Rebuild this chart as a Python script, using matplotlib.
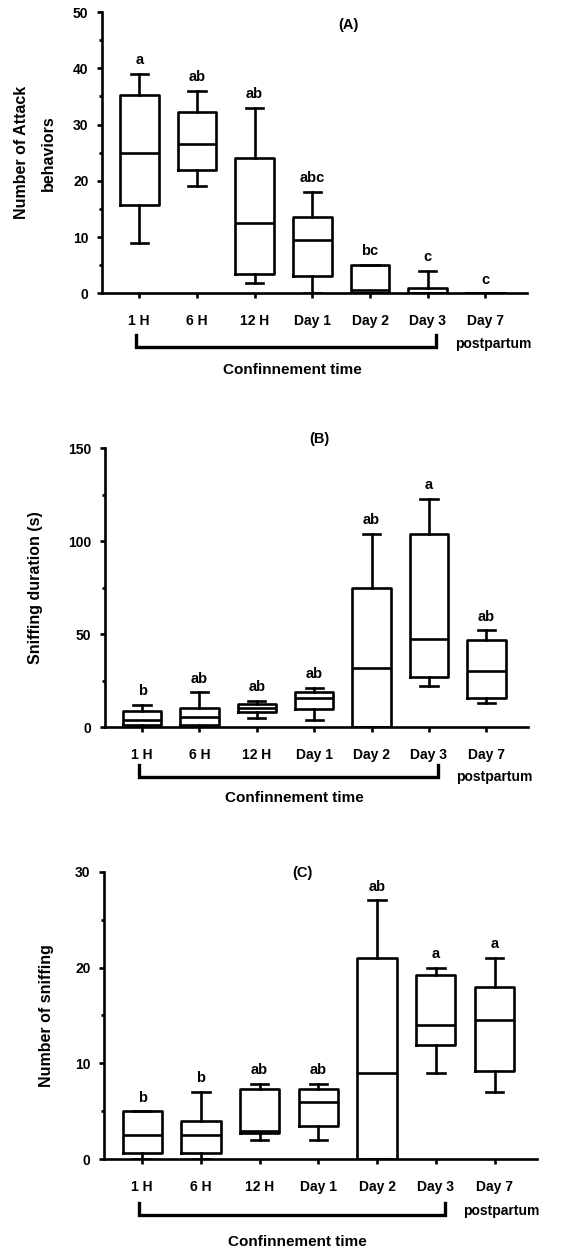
import matplotlib
matplotlib.use("Agg")
import matplotlib.pyplot as plt
from matplotlib.ticker import MultipleLocator

plt.rcParams['font.family'] = ['Liberation Sans', 'DejaVu Sans']
plt.rcParams['font.weight'] = 'bold'

labels = ['1 H', '6 H', '12 H', 'Day 1', 'Day 2', 'Day 3', 'Day 7']

# (A) number of attack behaviors
a_low = [9.0, 19.0, 1.9, 0.0, 0.0, 0.0, 0.0]
a_q1 = [15.7, 21.9, 3.5, 3.0, 0.0, 0.0, 0.0]
a_med = [25.0, 26.5, 12.5, 9.5, 0.5, 0.0, 0.0]
a_q3 = [35.2, 32.3, 24.1, 13.5, 5.0, 1.0, 0.0]
a_high = [39.0, 36.0, 33.0, 18.0, 5.0, 4.0, 0.0]
a_letters = ['a', 'ab', 'ab', 'abc', 'bc', 'c', 'c']

# (B) sniffing duration (s)
b_low = [0.0, 0.0, 4.8, 3.9, 0.0, 22.2, 12.9]
b_q1 = [1.2, 1.2, 8.1, 9.7, 0.0, 27.2, 15.9]
b_med = [3.9, 5.7, 10.6, 15.6, 32.0, 47.3, 30.3]
b_q3 = [9.0, 10.2, 12.5, 18.8, 74.7, 104.1, 47.0]
b_high = [12.0, 18.8, 14.2, 21.1, 103.9, 122.9, 52.2]
b_letters = ['b', 'ab', 'ab', 'ab', 'ab', 'a', 'ab']

# (C) number of sniffing
c_low = [0.0, 0.0, 2.0, 2.0, 0.0, 9.0, 7.0]
c_q1 = [0.7, 0.7, 2.7, 3.5, 0.0, 11.9, 9.25]
c_med = [2.5, 2.5, 3.0, 6.0, 9.0, 14.0, 14.5]
c_q3 = [5.0, 4.0, 7.3, 7.3, 21.0, 19.2, 18.0]
c_high = [5.0, 7.0, 7.9, 7.9, 27.0, 20.0, 21.0]
c_letters = ['b', 'b', 'ab', 'ab', 'ab', 'a', 'a']


def draw_panel(ax, low, q1, med, q3, high, letters, ymax, ystep, ylabel,
               title, title_pos, ylabel_x, bracket_y, conf_y):
    stats = []
    for i in range(len(labels)):
        stats.append({'whislo': low[i], 'q1': q1[i], 'med': med[i],
                      'q3': q3[i], 'whishi': high[i], 'fliers': []})
    lw = 1.9
    ax.bxp(stats, positions=range(len(labels)), widths=0.67, capwidths=0.3,
           showfliers=False, patch_artist=False,
           boxprops=dict(color='black', linewidth=lw),
           medianprops=dict(color='black', linewidth=lw),
           whiskerprops=dict(color='black', linewidth=lw),
           capprops=dict(color='black', linewidth=lw))

    for i, t in enumerate(letters):
        ax.annotate(t, (i, high[i]), xytext=(0, 7.0), textcoords='offset points',
                    ha='center', va='baseline', fontsize=10.5, fontweight='bold')

    ax.set_xlim(-0.65, 6.72)
    ax.set_ylim(0, ymax)
    ax.set_xticks(range(len(labels)))
    ax.set_xticklabels(labels)
    ax.yaxis.set_major_locator(MultipleLocator(ystep))
    ax.yaxis.set_minor_locator(MultipleLocator(ystep / 2))
    ax.spines['top'].set_visible(False)
    ax.spines['right'].set_visible(False)
    ax.spines['left'].set_linewidth(lw)
    ax.spines['bottom'].set_linewidth(lw)
    ax.tick_params(axis='both', which='major', direction='out', length=3.6,
                   width=lw, labelsize=10)
    ax.tick_params(axis='x', pad=11)
    ax.tick_params(axis='y', pad=6)
    ax.tick_params(axis='y', which='minor', direction='out', length=2.5, width=lw)
    for lab in ax.get_xticklabels() + ax.get_yticklabels():
        lab.set_fontweight('bold')

    ax.set_ylabel(ylabel, fontsize=11.5, fontweight='bold', linespacing=2.0)
    ax.yaxis.set_label_coords(ylabel_x, 0.5)

    ax.text(title_pos[0], title_pos[1], title, transform=ax.get_xaxis_transform(),
            ha='center', va='center', fontsize=10.5, fontweight='bold')

    trans = ax.get_xaxis_transform()
    ax.plot([-0.05, -0.05, 5.15, 5.15], [bracket_y[0], bracket_y[1], bracket_y[1], bracket_y[0]],
            color='black', linewidth=2.4, transform=trans, clip_on=False,
            solid_joinstyle='miter')
    ax.text(5.47, -0.179, 'postpartum', transform=trans, ha='left', va='center',
            fontsize=10, fontweight='bold')
    ax.text(2.65, conf_y, 'Confinnement time', transform=trans, ha='center',
            va='center', fontsize=11, fontweight='bold')


fig = plt.figure(figsize=(5.74, 12.56), dpi=100)

ax1 = fig.add_axes([0.1772, 0.7665, 0.741, 0.2239])
draw_panel(ax1, a_low, a_q1, a_med, a_q3, a_high, a_letters, 50, 10,
           'Number of Attack\nbehaviors', '(A)', (3.62, 0.954), -0.107,
           (-0.148, -0.191), -0.273)

ax2 = fig.add_axes([0.1826, 0.4209, 0.7366, 0.2221])
draw_panel(ax2, b_low, b_q1, b_med, b_q3, b_high, b_letters, 150, 50,
           'Sniffing duration (s)', '(B)', (3.09, 1.033), -0.146,
           (-0.135, -0.178), -0.253)

ax3 = fig.add_axes([0.1812, 0.077, 0.754, 0.229])
draw_panel(ax3, c_low, c_q1, c_med, c_q3, c_high, c_letters, 30, 10,
           'Number of sniffing', '(C)', (2.73, 0.9965), -0.116,
           (-0.151, -0.194), -0.286)

fig.savefig('out.png', dpi=100)
